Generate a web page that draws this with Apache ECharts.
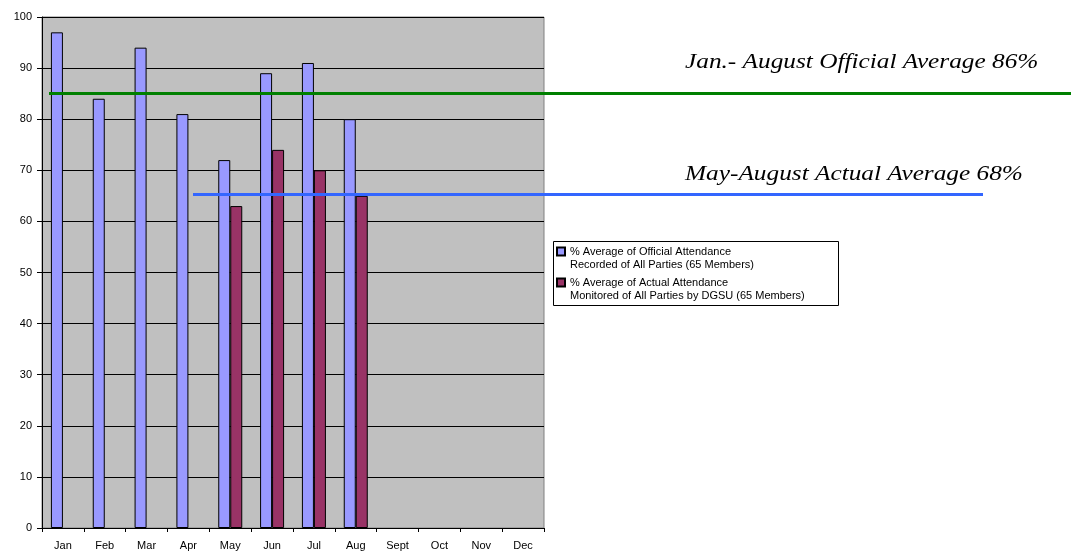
<!DOCTYPE html>
<html>
<head>
<meta charset="utf-8">
<script src="https://cdn.jsdelivr.net/npm/echarts@6/dist/echarts.min.js"></script>
<style>
  html, body { margin: 0; padding: 0; background: #fff; }
  #attendance-chart { width: 1071px; height: 552px; }
</style>
</head>
<body>
<div id="attendance-chart"></div>
<script>
// 月份
const months = ['Jan', 'Feb', 'Mar', 'Apr', 'May', 'Jun', 'Jul', 'Aug', 'Sept', 'Oct', 'Nov', 'Dec']
// 官方出勤率
const officialAttendance = [97, 84, 94, 81, 72, 89, 91, 80, '-', '-', '-', '-']
// 实际出勤率
const actualAttendance = ['-', '-', '-', '-', 63, 74, 70, 65, '-', '-', '-', '-']
// 平均线
const officialAverageLine = 85
const actualAverageLine = 65.4
const officialAverageText = 'Jan.- August Official Average 86%'
const actualAverageText = 'May-August Actual Average 68%'
const seriesNames = [
  '% Average of Official Attendance\nRecorded of All Parties (65 Members)',
  '% Average of Actual Attendance\nMonitored of All Parties by DGSU (65 Members)'
]

const myChart = echarts.init(document.getElementById('attendance-chart'))
const labelFont = {
  color: '#000',
  fontFamily: 'Liberation Sans, Arial',
  fontSize: 11
}
const noteFont = 'italic 22px "Liberation Serif", "Times New Roman", serif'
const option = {
  animation: false,
  grid: {
    left: 42,
    right: 527,
    top: 17,
    bottom: 24,
    show: true,
    backgroundColor: '#C0C0C0',
    borderColor: '#808080',
    borderWidth: 1
  },
  legend: {
    orient: 'vertical',
    left: 556,
    top: 232,
    itemWidth: 8,
    itemHeight: 8,
    itemGap: -8,
    padding: 0,
    icon: 'rect',
    // 空行使图标对齐第一行文字
    formatter: function(name) {
      return '\n' + name
    },
    textStyle: {
      color: '#000',
      fontFamily: 'Liberation Sans, Arial',
      fontSize: 11,
      lineHeight: 13
    },
    data: seriesNames
  },
  xAxis: {
    type: 'category',
    data: months,
    boundaryGap: true,
    axisLine: { lineStyle: { color: '#000', width: 1 } },
    axisTick: { show: true, interval: 0, length: 4, lineStyle: { color: '#000' } },
    axisLabel: Object.assign({ interval: 0, margin: 12 }, labelFont),
    splitLine: { show: false }
  },
  yAxis: {
    type: 'value',
    min: 0,
    max: 100,
    interval: 10,
    axisLine: { show: true, lineStyle: { color: '#000', width: 1 } },
    axisTick: { show: true, length: 5, lineStyle: { color: '#000' } },
    axisLabel: Object.assign({ margin: 10 }, labelFont),
    splitLine: { show: true, lineStyle: { color: '#000', width: 1 } }
  },
  graphic: [
    {
      type: 'rect',
      z: -1,
      shape: { x: 553.5, y: 241.5, width: 285, height: 64 },
      style: { fill: '#fff', stroke: '#000', lineWidth: 1 }
    },
    {
      type: 'text',
      x: 685,
      y: 51,
      scaleX: 1.15,
      style: { text: officialAverageText, fill: '#000', font: noteFont }
    },
    {
      type: 'text',
      x: 685,
      y: 163,
      scaleX: 1.15,
      style: { text: actualAverageText, fill: '#000', font: noteFont }
    }
  ],
  series: [
    {
      name: seriesNames[0],
      type: 'bar',
      barWidth: 12,
      barGap: '0%',
      data: officialAttendance,
      itemStyle: { color: '#9999FF', borderColor: '#000', borderWidth: 1 },
      markLine: {
        silent: true,
        symbol: 'none',
        label: { show: false },
        lineStyle: { color: '#008000', width: 3, type: 'solid' },
        data: [
          [{ x: 49, yAxis: officialAverageLine }, { x: 1071, yAxis: officialAverageLine }]
        ]
      }
    },
    {
      name: seriesNames[1],
      type: 'bar',
      barWidth: 12,
      barGap: '0%',
      data: actualAttendance,
      itemStyle: { color: '#993366', borderColor: '#000', borderWidth: 1 },
      markLine: {
        silent: true,
        symbol: 'none',
        label: { show: false },
        lineStyle: { color: '#3366FF', width: 3, type: 'solid' },
        data: [
          [{ x: 193, yAxis: actualAverageLine }, { x: 983, yAxis: actualAverageLine }]
        ]
      }
    }
  ]
}
myChart.setOption(option)
window.addEventListener('resize', function() {
  myChart.resize()
})
</script>
</body>
</html>
